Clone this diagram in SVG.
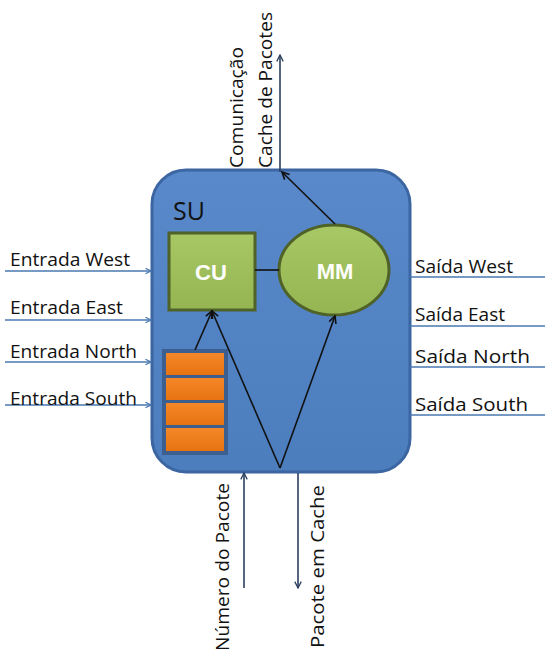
<svg xmlns="http://www.w3.org/2000/svg" width="545" height="652" viewBox="0 0 545 652">
<defs>
<style>
.lbl{font-family:"Open Sans","Liberation Sans",sans-serif;font-size:19px;fill:#111}
.io{stroke:#4a78b0;stroke-width:1.6;fill:none}
.blk{stroke:#111;stroke-width:1.6;fill:none}
.nav{stroke:#2b3f5e;stroke-width:1.6;fill:none}
.wt{font-family:"Liberation Sans",Arial,sans-serif;font-weight:bold;font-size:22px;fill:#fff;text-anchor:middle}
.q{fill:url(#og);stroke:#3d5f8f;stroke-width:2}
</style>
<linearGradient id="bg" x1="0" y1="0" x2="0" y2="1">
<stop offset="0" stop-color="#5989ca"/><stop offset="1" stop-color="#4c7dbd"/>
</linearGradient>
<linearGradient id="gg" x1="0" y1="0" x2="0" y2="1">
<stop offset="0" stop-color="#a8c765"/><stop offset="1" stop-color="#94b552"/>
</linearGradient>
<linearGradient id="og" x1="0" y1="0" x2="0" y2="1">
<stop offset="0" stop-color="#f5892a"/><stop offset="1" stop-color="#e7720f"/>
</linearGradient>
<marker id="ahb" viewBox="0 0 10 10" refX="9" refY="5" markerWidth="9" markerHeight="9" orient="auto" markerUnits="userSpaceOnUse">
<path d="M1,1 L9,5 L1,9" fill="none" stroke="#111" stroke-width="1.8"/>
</marker>
<marker id="ahn" viewBox="0 0 10 10" refX="9" refY="5" markerWidth="8" markerHeight="8" orient="auto" markerUnits="userSpaceOnUse">
<path d="M1,1 L9,5 L1,9" fill="none" stroke="#2b3f5e" stroke-width="1.6"/>
</marker>
<marker id="ahi" viewBox="0 0 10 10" refX="9" refY="5" markerWidth="7" markerHeight="7" orient="auto" markerUnits="userSpaceOnUse">
<path d="M1,1 L9,5 L1,9" fill="none" stroke="#4a78b0" stroke-width="1.6"/>
</marker>
</defs>

<g id="SU">
<rect x="152" y="170" width="258" height="302" rx="34" ry="34" fill="url(#bg)" stroke="#3b66a2" stroke-width="3"/>
<text x="173" y="220" font-family="Open Sans, Liberation Sans, sans-serif" font-size="25" fill="#111">SU</text>
</g>

<g id="CU">
<rect x="169" y="233" width="86" height="77" fill="url(#gg)" stroke="#4f6228" stroke-width="3"/>
<text class="wt" x="211" y="280">CU</text>
</g>

<g id="MM">
<ellipse cx="334" cy="270" rx="55" ry="45" fill="url(#gg)" stroke="#4f6228" stroke-width="3"/>
<text class="wt" x="335" y="279">MM</text>
</g>

<g id="buffer">
<rect x="163" y="350" width="64" height="104" fill="#4e7fc0" stroke="#3d5f8f" stroke-width="2"/>
<rect class="q" x="165" y="352" width="60" height="24"/>
<rect class="q" x="165" y="377" width="60" height="24"/>
<rect class="q" x="165" y="402" width="60" height="24"/>
<rect class="q" x="165" y="427" width="60" height="25"/>
</g>

<g id="connectors">
<line class="blk" x1="255" y1="270" x2="279" y2="270"/>
<line class="blk" x1="195" y1="350" x2="212" y2="311" marker-end="url(#ahb)"/>
<line class="blk" x1="280" y1="468" x2="212" y2="311" marker-end="url(#ahb)"/>
<line class="blk" x1="280" y1="468" x2="335" y2="316" marker-end="url(#ahb)"/>
<line class="blk" x1="335" y1="224" x2="282" y2="172" marker-end="url(#ahb)"/>
<line class="nav" x1="280" y1="172" x2="280" y2="55" marker-end="url(#ahn)"/>
<line class="nav" x1="244" y1="588" x2="244" y2="473" marker-end="url(#ahn)"/>
<line class="nav" x1="298" y1="473" x2="298" y2="588" marker-end="url(#ahn)"/>
<line class="io" x1="5" y1="271" x2="151" y2="271" marker-end="url(#ahi)"/>
<line class="io" x1="5" y1="320" x2="151" y2="320" marker-end="url(#ahi)"/>
<line class="io" x1="5" y1="362" x2="151" y2="362" marker-end="url(#ahi)"/>
<line class="io" x1="5" y1="405" x2="151" y2="405" marker-end="url(#ahi)"/>
<line class="io" x1="410" y1="277" x2="545" y2="277"/>
<line class="io" x1="410" y1="326" x2="545" y2="326"/>
<line class="io" x1="410" y1="367" x2="545" y2="367"/>
<line class="io" x1="410" y1="415" x2="545" y2="415"/>
</g>

<g id="labels">
<text class="lbl" x="10" y="266" textLength="120" lengthAdjust="spacingAndGlyphs">Entrada West</text>
<text class="lbl" x="10" y="314" textLength="113" lengthAdjust="spacingAndGlyphs">Entrada East</text>
<text class="lbl" x="10" y="358" textLength="127" lengthAdjust="spacingAndGlyphs">Entrada North</text>
<text class="lbl" x="10" y="405" textLength="127" lengthAdjust="spacingAndGlyphs">Entrada South</text>
<text class="lbl" x="415" y="273" textLength="98" lengthAdjust="spacingAndGlyphs">Saída West</text>
<text class="lbl" x="415" y="321" textLength="90" lengthAdjust="spacingAndGlyphs">Saída East</text>
<text class="lbl" x="415" y="363" textLength="115" lengthAdjust="spacingAndGlyphs">Saída North</text>
<text class="lbl" x="415" y="411" textLength="113" lengthAdjust="spacingAndGlyphs">Saída South</text>
<text class="lbl" transform="translate(243,168) rotate(-90)" textLength="121" lengthAdjust="spacingAndGlyphs">Comunicação</text>
<text class="lbl" transform="translate(272,168) rotate(-90)" textLength="156" lengthAdjust="spacingAndGlyphs">Cache de Pacotes</text>
<text class="lbl" transform="translate(229,651) rotate(-90)" textLength="168" lengthAdjust="spacingAndGlyphs">Número do Pacote</text>
<text class="lbl" transform="translate(324,648) rotate(-90)" textLength="163" lengthAdjust="spacingAndGlyphs">Pacote em Cache</text>
</g>
</svg>
